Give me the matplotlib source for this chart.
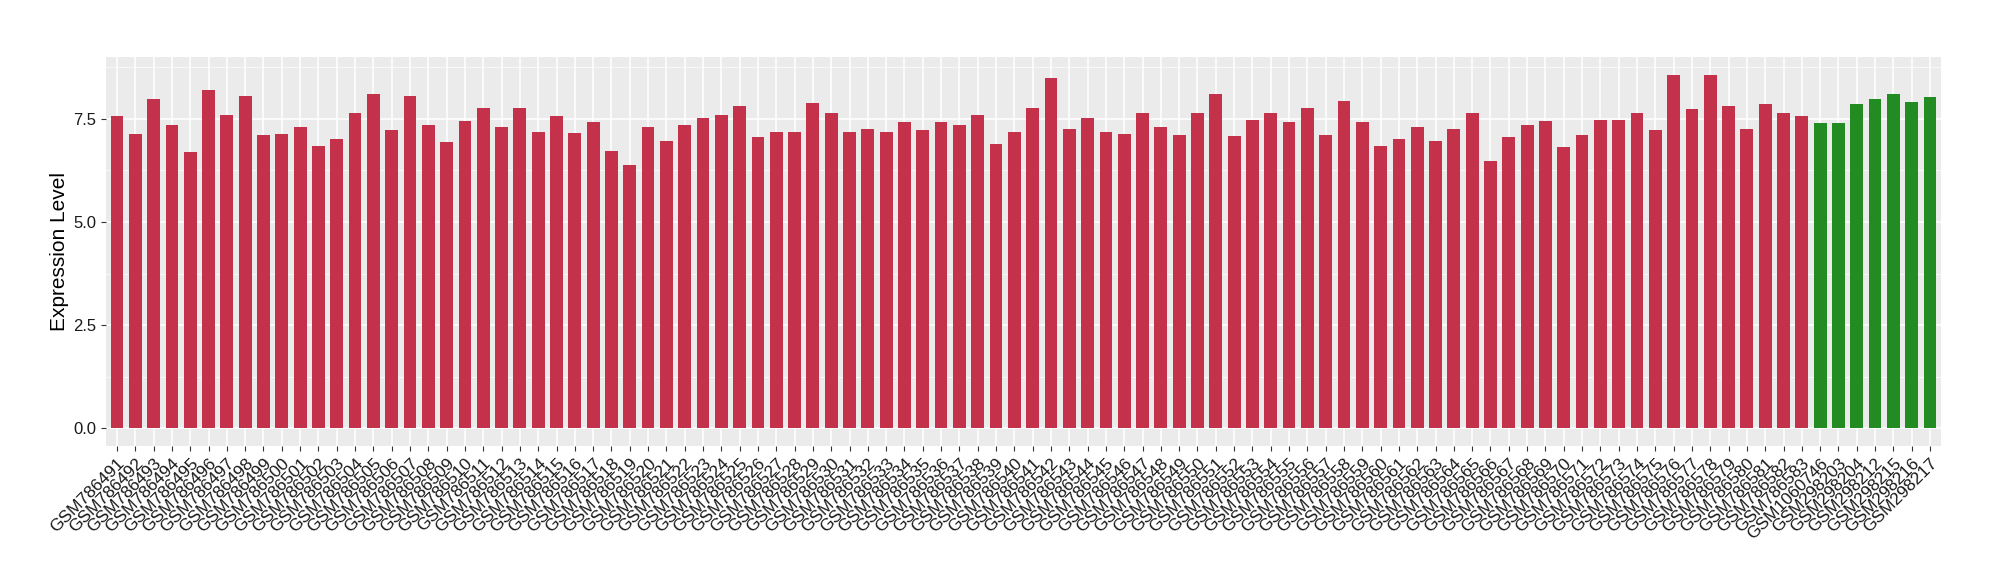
import numpy as np
import matplotlib
matplotlib.use("Agg")
import matplotlib.pyplot as plt
from matplotlib.transforms import ScaledTranslation

plt.rcParams['font.family'] = ['Liberation Sans', 'DejaVu Sans']

# sample ids
muestras = ["GSM%d" % n for n in range(786491, 786584)] + [
    "GSM1060746", "GSM298203", "GSM298204", "GSM298212",
    "GSM298215", "GSM298216", "GSM298217"]

# expression values
valores_rojo = [
    7.56, 7.12, 7.97, 7.34, 6.69, 8.19, 7.58, 8.04, 7.10, 7.12,
    7.31, 6.85, 7.02, 7.63, 8.11, 7.22, 8.04, 7.34, 6.93, 7.44,
    7.75, 7.29, 7.75, 7.19, 7.56, 7.15, 7.41, 6.73, 6.37, 7.29,
    6.95, 7.34, 7.51, 7.58, 7.82, 7.05, 7.17, 7.19, 7.87, 7.63,
    7.17, 7.24, 7.17, 7.41, 7.22, 7.41, 7.34, 7.60, 6.88, 7.17,
    7.75, 8.48, 7.24, 7.51, 7.17, 7.12, 7.63, 7.31, 7.10, 7.63,
    8.09, 7.07, 7.48, 7.63, 7.41, 7.77, 7.10, 7.94, 7.41, 6.85,
    7.02, 7.31, 6.95, 7.24, 7.63, 6.47, 7.05, 7.36, 7.44, 6.81,
    7.10, 7.46, 7.48, 7.63, 7.22, 8.55, 7.73, 8.57, 7.80, 7.24,
    7.85, 7.65, 7.56]
valores_verde = [7.39, 7.39, 7.85, 7.99, 8.11, 7.90, 8.02]

valores = valores_rojo + valores_verde
colores = ["#C3314A"] * len(valores_rojo) + ["#228B22"] * len(valores_verde)

fig = plt.figure(figsize=(20, 5.8), dpi=100)
ax = fig.add_axes([0.053, 0.231, 0.9175, 0.671])
ax.set_facecolor("#EBEBEB")

x = np.arange(len(muestras))
ax.bar(x, valores, width=0.7, color=colores, zorder=3)

ax.set_xlim(-0.6, len(muestras) - 0.4)
ax.set_ylim(-0.43, 9.0)
ax.set_yticks([0.0, 2.5, 5.0, 7.5])
ax.set_yticklabels(["0.0", "2.5", "5.0", "7.5"])
ax.set_yticks([1.25, 3.75, 6.25, 8.75], minor=True)
ax.set_xticks(x)
ax.set_xticklabels(muestras, rotation=45, ha="right", va="top",
                   rotation_mode="anchor", fontsize=12.5, color="#1a1a1a")
# shift labels a bit to the right like ggplot does
desplaza = ScaledTranslation(4 / 72, 0, fig.dpi_scale_trans)
for etiqueta in ax.get_xticklabels():
    etiqueta.set_transform(etiqueta.get_transform() + desplaza)
ax.tick_params(axis="y", labelsize=12, labelcolor="#1a1a1a")
ax.tick_params(axis="both", which="major", length=3.5, width=0.8, color="#333333")
ax.tick_params(axis="y", which="minor", length=0)

ax.grid(True, which="major", color="white", linewidth=1.1, zorder=0)
ax.grid(True, which="minor", axis="y", color="white", linewidth=0.5, zorder=0)
ax.set_axisbelow(True)
for s in ax.spines.values():
    s.set_visible(False)

ax.set_ylabel("Expression Level", fontsize=15, labelpad=3)

plt.savefig("out.png", dpi=100)
plt.close()
